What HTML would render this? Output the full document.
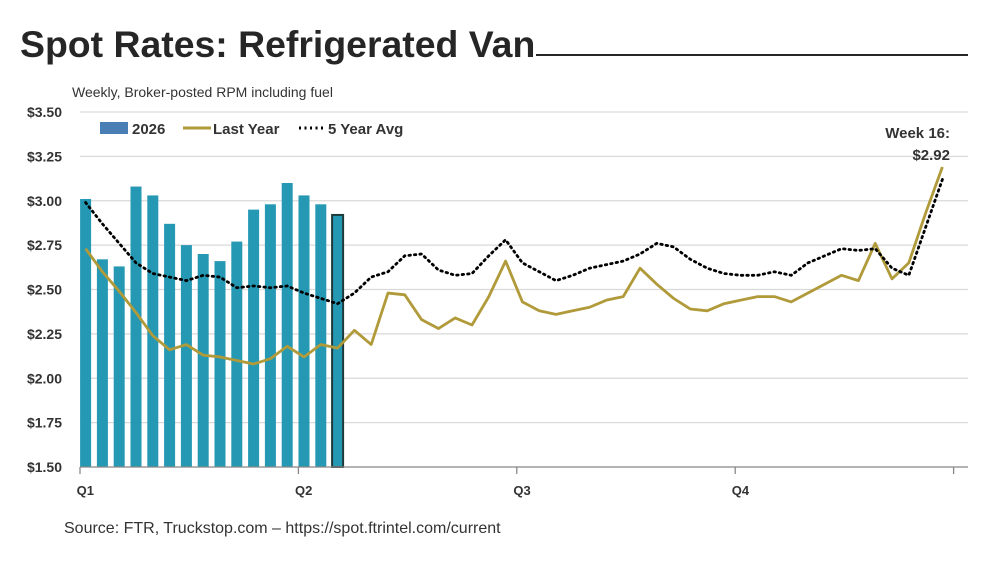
<!DOCTYPE html>
<html><head><meta charset="utf-8"><style>
body{margin:0;background:#fff;width:997px;height:561px;overflow:hidden;font-family:"Liberation Sans",sans-serif}
</style></head><body>
<svg width="997" height="561" viewBox="0 0 997 561" id="chart">
<text x="20" y="57" font-size="37.4" font-weight="bold" fill="#262626">Spot Rates: Refrigerated Van</text>
<line x1="536" y1="55" x2="968" y2="55" stroke="#262626" stroke-width="2"/>
<text x="72" y="97" font-size="14" fill="#333">Weekly, Broker-posted RPM including fuel</text>
<g id="grid"></g><g id="bars"></g><g id="lines"></g><g id="axis"></g>
<g font-size="15" font-weight="bold" fill="#333">
<rect x="100" y="122" width="28" height="12" fill="#4a7fb5"/>
<text x="132" y="134">2026</text>
<line x1="183" y1="128" x2="211" y2="128" stroke="#b09a3a" stroke-width="3"/>
<text x="213" y="134">Last Year</text>
<line x1="299" y1="128" x2="326" y2="128" stroke="#000" stroke-width="3" stroke-dasharray="2 3.5"/>
<text x="328" y="134">5 Year Avg</text>
</g>
<text x="950" y="138" font-size="15" font-weight="bold" fill="#333" text-anchor="end">Week 16:</text>
<text x="950" y="160" font-size="15" font-weight="bold" fill="#333" text-anchor="end">$2.92</text>
<text x="64" y="533" font-size="16" fill="#333">Source: FTR, Truckstop.com – https://spot.ftrintel.com/current</text>
</svg>
<script>
const ticks=[1.5,1.75,2.0,2.25,2.5,2.75,3.0,3.25,3.5];
const tickLabels=["$1.50","$1.75","$2.00","$2.25","$2.50","$2.75","$3.00","$3.25","$3.50"];
const quarters=["Q1","Q2","Q3","Q4"];
const quarterWeeks=[0,13,26,39];
const bars2026=[3.01,2.67,2.63,3.08,3.03,2.87,2.75,2.70,2.66,2.77,2.95,2.98,3.10,3.03,2.98,2.92];
const lastYear=[2.73,2.60,2.49,2.37,2.24,2.16,2.19,2.13,2.12,2.10,2.08,2.11,2.18,2.12,2.19,2.17,
2.27,2.19,2.48,2.47,2.33,2.28,2.34,2.30,2.46,2.66,2.43,2.38,2.36,2.38,2.40,2.44,2.46,2.62,2.53,2.45,2.39,2.38,2.42,2.44,2.46,2.46,2.43,2.48,2.53,2.58,2.55,2.76,2.56,2.65,2.93,3.19];
const fiveYr=[2.99,2.87,2.76,2.65,2.59,2.57,2.55,2.58,2.57,2.51,2.52,2.51,2.52,2.48,2.45,2.42,
2.48,2.57,2.60,2.69,2.70,2.61,2.58,2.59,2.69,2.78,2.65,2.60,2.55,2.58,2.62,2.64,2.66,2.70,2.76,2.74,2.67,2.62,2.59,2.58,2.58,2.60,2.58,2.65,2.69,2.73,2.72,2.73,2.62,2.58,2.85,3.12];
const NS="http://www.w3.org/2000/svg";
const X0=85.6,DX=16.8,Y0=467,YS=177.5;
const xs=i=>X0+DX*i, ys=v=>Y0-(v-1.5)*YS;
function mk(t,a,p){const e=document.createElementNS(NS,t);for(const k in a)e.setAttribute(k,a[k]);p.appendChild(e);return e;}
const grid=document.getElementById('grid');
ticks.forEach((t,i)=>{
 if(i>0){const l=mk('line',{x1:80,x2:968,y1:ys(t),y2:ys(t),stroke:'#d9d9d9','stroke-width':1.3},grid);
 
 }
 const tx=mk('text',{x:62,y:ys(t)+5,'font-size':14,'font-weight':'bold',fill:'#333','text-anchor':'end'},grid);
 tx.textContent=tickLabels[i];
 
 
});
const bg=document.getElementById('bars');
bars2026.forEach((v,i)=>{
 const last=i===bars2026.length-1;
 const r=mk('rect',{x:xs(i)-5.5,y:ys(v),width:11,height:Y0-ys(v),fill:'#2598b4',stroke:last?'#1d3b3b':'none','stroke-width':last?2:0},bg);
 
 
});
const lg=document.getElementById('lines');
const p1=mk('polyline',{points:lastYear.map((v,i)=>xs(i)+','+ys(v)).join(' '),fill:'none',stroke:'#b09a3a','stroke-width':2.8,'stroke-linejoin':'round'},lg);


const p2=mk('polyline',{points:fiveYr.map((v,i)=>xs(i)+','+ys(v)).join(' '),fill:'none',stroke:'#000','stroke-width':2.8,'stroke-dasharray':'1.5 4','stroke-linecap':'round'},lg);


const ax=document.getElementById('axis');
const al=mk('line',{x1:80,x2:968,y1:Y0,y2:Y0,stroke:'#888','stroke-width':1.3},ax);


[0,13,26,39,52].forEach(w=>{
 const t=mk('line',{x1:xs(w)-5.6,x2:xs(w)-5.6,y1:Y0,y2:Y0+7,stroke:'#888','stroke-width':1.3},ax);
 
 
});
quarters.forEach((q,i)=>{
 const t=mk('text',{x:xs(quarterWeeks[i])-9,y:495,'font-size':13,'font-weight':'bold',fill:'#333'},ax);
 t.textContent=q;
 
 
});
</script>
</body></html>
